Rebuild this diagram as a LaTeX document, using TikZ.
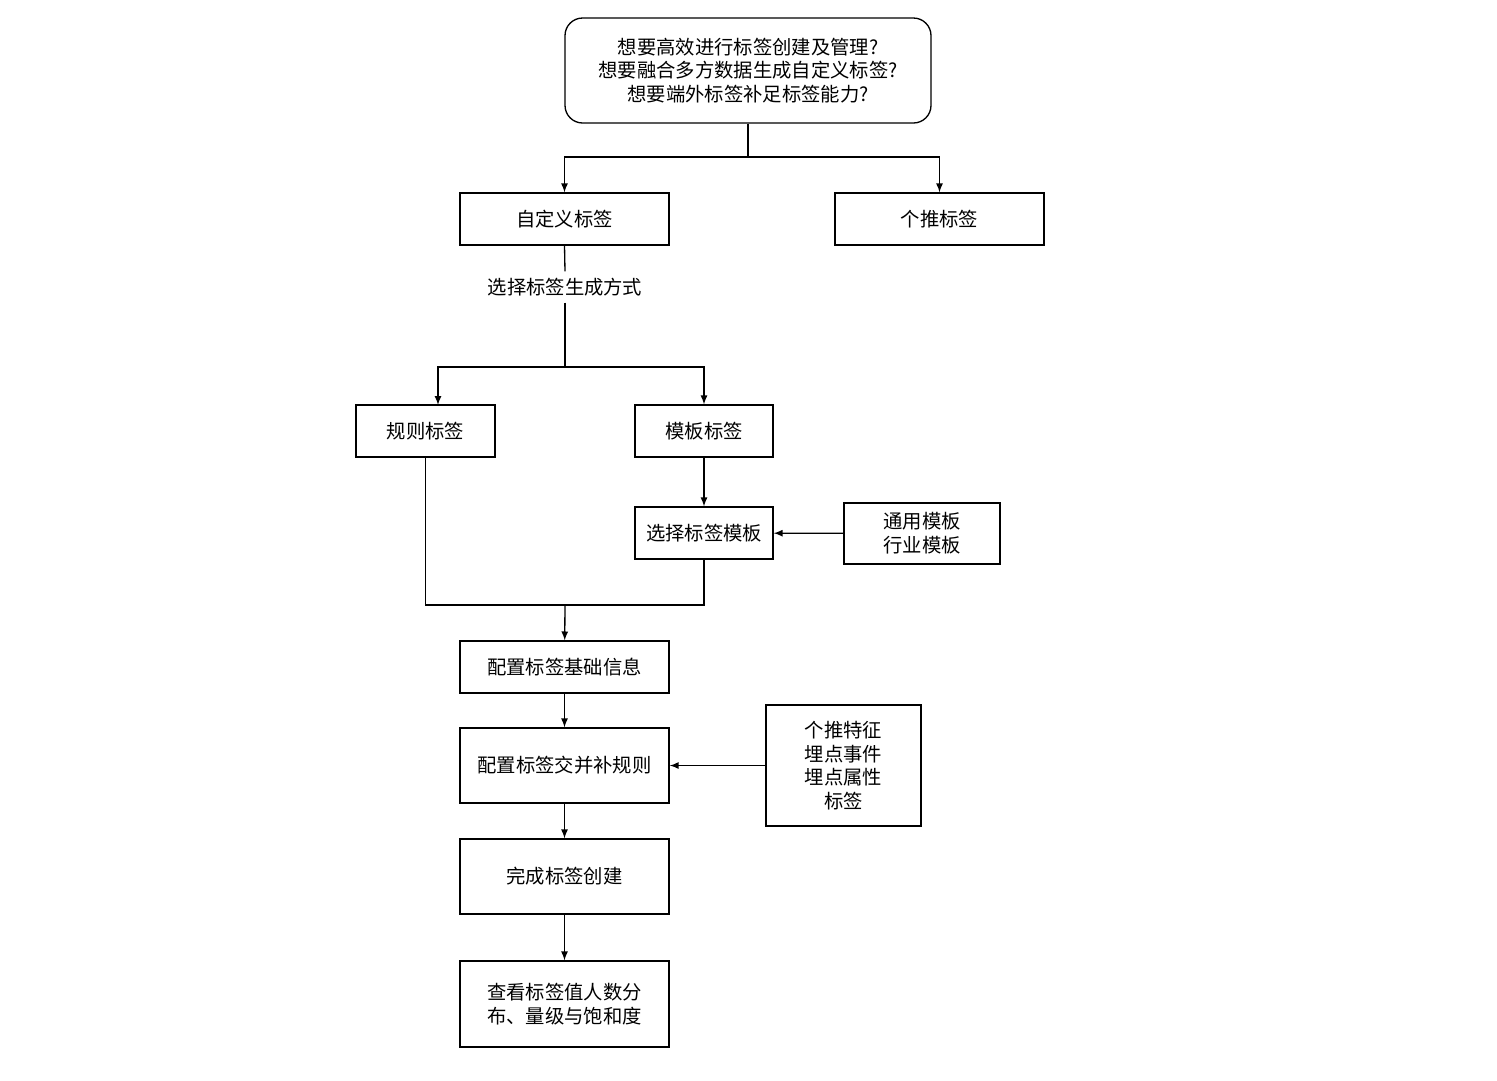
\documentclass[tikz,border=0pt]{standalone}
\usepackage{fontspec}
\setmainfont{Noto Sans CJK SC}
\usetikzlibrary{arrows}
\begin{document}
\begin{tikzpicture}[x=0.02cm,y=-0.02cm,>=latex,line width=0.75pt,
  box/.style={draw,minimum width=#1*0.02cm,align=center,inner sep=0pt,font=\fontsize{11}{13.5}\selectfont},
  box/.default=209]
\useasboundingbox (0,0) rectangle (1497,1080);
\node[box=366,rounded corners=10pt,minimum height=2.1cm] (ask) at (748,70.5) {想要高效进行标签创建及管理?\\想要融合多方数据生成自定义标签?\\想要端外标签补足标签能力?};
\node[box,minimum height=1.04cm] (custom) at (564.5,219) {自定义标签};
\node[box,minimum height=1.04cm] (push) at (939.5,219) {个推标签};
\node[font=\fontsize{11}{13.5}\selectfont,fill=white] (way) at (565,287) {选择标签生成方式};
\node[box=139,minimum height=1.04cm] (rule) at (425.5,431) {规则标签};
\node[box=138,minimum height=1.04cm] (tpl) at (704,431) {模板标签};
\node[box=138,minimum height=1.04cm] (pick) at (704,533) {选择标签模板};
\node[box=156,minimum height=1.22cm] (kind) at (922,533.5) {通用模板\\行业模板};
\node[box,minimum height=1.04cm] (base) at (564.5,667) {配置标签基础信息};
\node[box,minimum height=1.5cm] (logic) at (564.5,765.5) {配置标签交并补规则};
\node[box=155,minimum height=2.42cm] (feat) at (843.5,765.5) {个推特征\\埋点事件\\埋点属性\\标签};
\node[box,minimum height=1.5cm] (done) at (564.5,876.5) {完成标签创建};
\node[box,minimum height=1.72cm] (view) at (564.5,1004) {查看标签值人数分\\布、量级与饱和度};
\coordinate (split) at (748,157);
\coordinate (merge) at (565,605);
\draw (ask.south) -- (split);
\draw[->] (split) -| (custom.north);
\draw[->] (split) -| (push.north);
\draw (custom.south) -- (way.north);
\draw (way.south) -- (565,367);
\draw[->] (565,367) -| (438,405);
\draw[->] (565,367) -| (tpl.north);
\draw[->] (tpl) -- (pick);
\draw[->] (kind) -- (pick);
\draw (rule.south) |- (merge) -| (pick.south);
\draw[->] (merge) -- (base);
\draw[->] (base) -- (logic);
\draw[->] (feat) -- (logic);
\draw[->] (logic) -- (done);
\draw[->] (done) -- (view);
\end{tikzpicture}
\end{document}
